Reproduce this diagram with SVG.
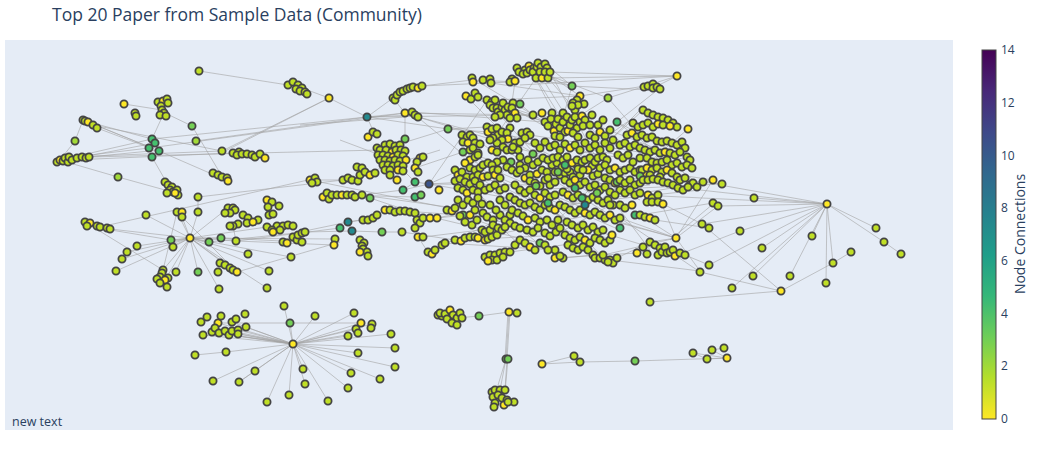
<svg xmlns="http://www.w3.org/2000/svg" width="1042" height="450" viewBox="0 0 1042 450">
<style>
.bg{fill:#e5ecf6}
.e{fill:none;stroke:#a3a3a3;stroke-width:0.6}
.n circle{r:3.6px;fill:#c0df25;stroke:#444;stroke-width:1.8px}
.n .y{fill:#fde725}
.n .g2{fill:#a2da37}
.n .g3{fill:#74d055}
.n .g4{fill:#45c06e}
.n .t{fill:#23898e}
.n .bl{fill:#3a548c}
text{font-family:"Open Sans","Liberation Sans",Arial,sans-serif;fill:#2a3f5f}
</style>
<defs>
<linearGradient id="vir" x1="0" y1="1" x2="0" y2="0">
<stop offset="0" stop-color="#fde725"/><stop offset="0.111" stop-color="#b5de2b"/><stop offset="0.222" stop-color="#6ece58"/><stop offset="0.333" stop-color="#35b779"/><stop offset="0.444" stop-color="#1f9e89"/><stop offset="0.556" stop-color="#26828e"/><stop offset="0.667" stop-color="#31688e"/><stop offset="0.778" stop-color="#3e4989"/><stop offset="0.889" stop-color="#482878"/><stop offset="1" stop-color="#440154"/>
</linearGradient>
<clipPath id="plot"><rect x="5" y="40" width="948" height="390"/></clipPath>
</defs>
<rect width="1042" height="450" fill="#ffffff"/>
<rect class="bg" x="5" y="40" width="948" height="390"/>
<text x="52" y="21" font-size="17.5">Top 20 Paper from Sample Data (Community)</text>

<g id="edges" class="e" clip-path="url(#plot)">
<path d="M199 71L288 85M329 98L302 88M329 98L227 150M329 98L367 117M124 104L162 110M165 113L192 126M192 126L223 178M163 115L152 139M83 120L152 148M88 122L159 151M93 125L222 151M97 128L150 148M85 121L152 139M75 141L83 120M75 141L60 160M60 160L152 139M65 158L149 148M68 157L222 151M72 160L233 153M89 157L160 150M82 157L155 143M63 161L118 177M118 177L165 190M196 141L367 117M222 151L329 98M152 157L168 185M159 151L228 181M152 139L367 117M157 147L405 113M89 157L380 150M198 197L343 180M100 227L308 180M85 222L163 270M110 229L190 238M87 226L171 240M177 212L163 270M182 217L237 272M233 226L236 241M237 272L340 242M198 212L198 197M209 242L305 232M221 238L302 242M236 241L334 245"/>
<path d="M190 238L177 212M190 238L182 217M190 238L198 212M190 238L171 240M190 238L173 247M190 238L209 242M190 238L221 238M190 238L236 241M190 238L163 270M190 238L165 280M190 238L176 272M190 238L198 272M190 238L219 289M190 238L237 272M190 238L230 268M190 238L248 254M190 238L269 271M190 238L267 288M190 238L137 246M190 238L127 252M190 238L122 259M190 238L116 271M190 238L291 257M190 238L335 239M190 238L267 227M190 238L228 208M190 238L146 215"/>
<path d="M367 117L405 113M367 117L393 98M367 117L375 135M367 117L540 115M367 117L415 115M367 117L448 129M405 113L405 139M405 139L393 160M418 117L488 135M418 117L510 145M422 86L510 82M422 86L472 80M405 113L533 115M410 112L545 122M415 115L470 160M393 98L405 113M448 129L487 127M448 129L380 150M343 180L310 180M342 195L415 197M370 198L430 218M403 190L415 182M429 184L500 180M429 184L415 182M429 184L540 185M429 184L520 200M429 184L460 170M429 184L487 100M429 184L403 190M415 182L393 160M403 190L362 195M348 222L340 228M348 222L352 231M348 222L363 220M348 222L300 232M352 231L305 232M340 228L236 241M352 231L382 232M382 232L402 232M402 232L455 240M360 240L352 231M373 218L348 222M437 218L475 210M447 210L463 215M463 215L490 225M445 243L485 232M418 237L428 252M300 125L405 117M340 140L380 155"/>
<path d="M487 100L545 122M495 100L580 96M517 68L572 86M545 72L580 96M548 78L610 150M536 78L575 140M540 72L608 98M550 72L677 76M548 78L677 76M520 85L677 76M653 88L677 76M608 98L677 76M580 96L645 86M572 86L650 90M572 86L540 80M617 122L660 88M608 98L560 128M466 96L545 122M478 97L533 115M533 115L520 104M542 113L560 128M512 108L553 131M500 115L540 160M488 132L448 129M463 152L415 168M475 157L540 185M533 154L580 175M511 162L490 188M543 158L650 170M560 128L610 160M575 140L640 148M585 120L620 145M490 150L560 200M500 178L620 230M520 190L650 185M529 66L560 125M542 78L600 170M520 82L470 80M470 135L560 200M480 168L600 240M455 175L540 245M500 130L640 200M530 180L605 260M560 220L660 250M590 170L650 250M600 130L700 185M617 122L690 160M630 120L560 170M680 140L600 200M640 110L600 150M487 127L600 190M505 150L610 215M470 240L590 215M540 243L620 200M455 240L520 210M595 257L676 238M610 170L545 232M660 172L713 180"/>
<path d="M310 180L453 209M362 195L455 208M343 180L440 150M405 211L487 217M437 218L560 205M415 213L540 243M423 237L505 227M445 243L555 250M455 240L565 235M493 220L590 243M510 252L600 240M555 258L637 253M563 258L593 255M617 258L650 242M617 122L700 185M643 110L600 150M688 129L640 170M608 98L630 123M572 86L560 128M580 96L575 140M466 96L520 150M472 78L545 122M491 83L580 96M545 64L572 86M536 78L500 130M533 154L600 200M511 162L650 195M463 152L560 180M470 160L600 215M465 163L540 230M488 132L620 155M497 143L640 180M520 142L680 167M530 135L690 160M575 117L660 150M560 137L620 190M505 188L610 240M480 185L585 240M458 188L520 245M490 230L600 170M540 210L690 185M560 205L700 190M600 190L722 184M640 215L713 203M655 220L709 228M663 204L702 224M620 218L700 272M610 260L700 271M685 255L709 265M675 256L740 231M550 72L600 165M517 68L505 150"/>
<path d="M560 205L676 238M590 215L676 238M620 218L676 238M640 215L676 238M660 200L676 238M676 238L713 180M676 238L718 206M676 238L700 271M676 238L650 242M713 180L690 185M722 184L680 180M827 204L754 198M827 204L718 206M827 204L702 224M827 204L740 231M827 204L762 248M827 204L812 236M827 204L876 228M827 204L884 242M884 242L901 254M827 204L833 263M827 204L826 283M827 204L790 276M827 204L753 276M827 204L732 288M827 204L709 265M827 204L640 195M827 204L700 190M827 204L720 185M702 224L781 291M781 291L700 272M781 291L833 263M833 263L851 252M781 291L650 302M713 204L670 240"/>
<path d="M457 318L479 316M479 316L509 312M509 312L517 313M509 312L506 359M508 312L505 359M510 312L507 359M506 359L500 390M508 359L505 392M506 359L495 395M507 359L504 405M542 364L574 356M542 364L580 362M574 356L580 362M580 362L635 361M635 361L727 358M727 358L693 353M727 358L712 350M727 358L707 359M693 353L707 359M712 350L724 348"/>
<path d="M293 344L284 306M293 344L290 323M293 344L315 316M293 344L354 313M293 344L361 323M293 344L372 324M293 344L356 329M293 344L348 336M293 344L358 333M293 344L391 334M293 344L395 348M293 344L358 353M293 344L395 367M293 344L351 373M293 344L380 379M293 344L348 388M293 344L328 401M293 344L305 384M293 344L303 369M293 344L289 395M293 344L267 402M293 344L255 371M293 344L239 382M293 344L213 381M293 344L226 352M293 344L203 335M293 344L212 332M293 344L219 333M293 344L225 331M293 344L229 335M293 344L232 331M293 344L238 330M293 344L238 334M293 344L246 327M293 344L218 323M293 344L232 322M218 323L361 323M195 355L226 352M239 382L255 371"/>
</g>

<g id="nodes-left" class="n">
<circle cx="199" cy="71"/>
<circle cx="288" cy="85"/><circle cx="293" cy="82"/><circle cx="298" cy="85"/><circle cx="296" cy="89"/><circle cx="302" cy="88"/><circle cx="300" cy="91"/><circle cx="305" cy="92"/><circle cx="307" cy="94"/>
<circle class="y" cx="329" cy="98"/>
<circle class="y" cx="124" cy="104"/><circle cx="135" cy="113"/><circle cx="136" cy="116"/>
<circle cx="158" cy="102"/><circle class="y" cx="163" cy="101"/><circle cx="167" cy="99"/><circle cx="168" cy="103"/><circle cx="161" cy="106"/><circle cx="162" cy="110"/><circle cx="164" cy="113"/><circle cx="160" cy="115"/><circle cx="166" cy="116"/>
<circle class="g3" cx="192" cy="126"/><circle class="g2" cx="196" cy="141"/>
<circle cx="83" cy="120"/><circle cx="85" cy="121"/><circle class="y" cx="88" cy="122"/><circle cx="93" cy="125"/><circle cx="97" cy="128"/>
<circle class="g2" cx="75" cy="141"/>
<circle class="g4" cx="152" cy="139"/><circle class="g4" cx="155" cy="143"/><circle class="g4" cx="149" cy="148"/><circle class="g4" cx="159" cy="151"/><circle class="g4" cx="152" cy="157"/>
<circle cx="57" cy="162"/><circle class="y" cx="60" cy="160"/><circle cx="63" cy="161"/><circle cx="65" cy="158"/><circle cx="68" cy="162"/><circle cx="69" cy="157"/><circle cx="72" cy="160"/><circle cx="77" cy="158"/><circle cx="82" cy="157"/><circle cx="86" cy="158"/><circle cx="89" cy="157"/>
<circle cx="222" cy="151"/><circle cx="233" cy="153"/><circle cx="239" cy="152"/><circle cx="237" cy="155"/><circle cx="242" cy="154"/><circle cx="247" cy="154"/><circle cx="252" cy="155"/><circle cx="255" cy="157"/><circle cx="260" cy="154"/><circle class="y" cx="265" cy="158"/>
<circle class="g2" cx="118" cy="177"/>
<circle cx="165" cy="182"/><circle cx="168" cy="185"/><circle cx="172" cy="187"/><circle cx="170" cy="190"/><circle cx="173" cy="192"/><circle cx="177" cy="190"/><circle cx="178" cy="195"/><circle cx="167" cy="193"/><circle class="y" cx="175" cy="193"/>
<circle cx="213" cy="173"/><circle cx="218" cy="175"/><circle cx="222" cy="177"/><circle cx="227" cy="178"/><circle class="y" cx="228" cy="181"/>
<circle cx="198" cy="197"/><circle cx="146" cy="215"/><circle cx="198" cy="212"/>
<circle cx="177" cy="212"/><circle class="y" cx="182" cy="212"/><circle cx="182" cy="217"/>
<circle cx="85" cy="222"/><circle class="y" cx="90" cy="223"/><circle cx="87" cy="226"/><circle cx="97" cy="226"/><circle cx="100" cy="227"/><circle cx="107" cy="228"/><circle cx="110" cy="229"/>
<circle class="g3" cx="171" cy="240"/><circle cx="173" cy="247"/>
<circle class="g3" cx="209" cy="242"/><circle class="g3" cx="221" cy="238"/><circle cx="236" cy="241"/>
<circle cx="228" cy="208"/><circle cx="233" cy="208"/><circle cx="235" cy="210"/><circle cx="230" cy="213"/><circle cx="225" cy="213"/>
<circle cx="243" cy="215"/><circle cx="248" cy="218"/><circle cx="258" cy="220"/><circle cx="247" cy="223"/><circle class="y" cx="253" cy="222"/><circle cx="238" cy="224"/><circle cx="233" cy="226"/><circle cx="230" cy="226"/>
<circle class="y" cx="267" cy="200"/><circle cx="272" cy="202"/><circle cx="279" cy="206"/><circle cx="268" cy="207"/><circle cx="269" cy="215"/><circle cx="273" cy="214"/>
<circle cx="267" cy="227"/><circle cx="277" cy="226"/><circle cx="283" cy="226"/><circle cx="288" cy="225"/><circle cx="293" cy="226"/><circle cx="272" cy="230"/><circle cx="280" cy="230"/><circle class="y" cx="273" cy="232"/>
<circle cx="283" cy="242"/><circle class="y" cx="287" cy="243"/><circle cx="293" cy="237"/><circle cx="297" cy="240"/><circle cx="298" cy="235"/><circle cx="302" cy="233"/><circle cx="305" cy="232"/><circle cx="302" cy="242"/>
<circle cx="335" cy="239"/><circle class="y" cx="334" cy="245"/>
<circle cx="137" cy="246"/><circle cx="127" cy="252"/><circle cx="122" cy="259"/><circle cx="116" cy="271"/>
<circle cx="163" cy="270"/><circle cx="162" cy="273"/><circle cx="160" cy="277"/><circle cx="157" cy="279"/><circle cx="168" cy="278"/><circle class="y" cx="165" cy="280"/><circle cx="160" cy="283"/><circle cx="167" cy="287"/>
<circle cx="176" cy="272"/><circle class="g3" cx="198" cy="272"/><circle cx="218" cy="272"/>
<circle cx="220" cy="263"/><circle cx="225" cy="265"/><circle cx="230" cy="268"/><circle cx="233" cy="270"/><circle class="y" cx="237" cy="272"/>
<circle cx="248" cy="254"/><circle cx="269" cy="271"/><circle cx="291" cy="257"/><circle cx="219" cy="289"/><circle cx="267" cy="288"/>
<circle class="y" cx="190" cy="238"/>
</g>

<g id="nodes-midleft" class="n">
<circle cx="393" cy="98"/><circle cx="395" cy="100"/><circle cx="397" cy="95"/><circle cx="400" cy="92"/><circle cx="403" cy="91"/><circle cx="407" cy="89"/><circle cx="410" cy="88"/><circle cx="413" cy="87"/><circle class="y" cx="418" cy="88"/><circle cx="422" cy="86"/>
<circle class="y" cx="368" cy="137"/><circle cx="373" cy="132"/><circle cx="377" cy="134"/>
<circle class="y" cx="405" cy="113"/><circle cx="412" cy="112"/><circle cx="415" cy="115"/><circle cx="418" cy="117"/>
<circle class="g3" cx="405" cy="139"/><circle class="g3" cx="448" cy="129"/>
<circle cx="385" cy="145"/><circle cx="390" cy="144"/><circle cx="395" cy="146"/><circle cx="400" cy="145"/><circle cx="377" cy="148"/>
<circle cx="380" cy="150"/><circle cx="386" cy="150"/><circle class="y" cx="392" cy="152"/><circle cx="396" cy="150"/><circle cx="401" cy="150"/><circle cx="405" cy="151"/>
<circle cx="378" cy="155"/><circle cx="383" cy="155"/><circle cx="388" cy="156"/><circle class="y" cx="393" cy="157"/><circle cx="398" cy="155"/><circle cx="403" cy="156"/>
<circle cx="380" cy="160"/><circle cx="385" cy="160"/><circle cx="390" cy="161"/><circle cx="395" cy="160"/><circle cx="400" cy="161"/><circle class="y" cx="406" cy="160"/>
<circle cx="383" cy="165"/><circle cx="388" cy="165"/><circle cx="393" cy="166"/><circle cx="398" cy="165"/><circle cx="403" cy="166"/>
<circle cx="385" cy="170"/><circle cx="390" cy="170"/><circle class="y" cx="398" cy="170"/><circle cx="403" cy="171"/>
<circle cx="390" cy="175"/><circle class="y" cx="397" cy="180"/>
<circle class="y" cx="420" cy="158"/><circle cx="423" cy="157"/><circle cx="417" cy="162"/><circle class="y" cx="415" cy="168"/><circle cx="418" cy="172"/>
<circle class="g4" cx="415" cy="182"/><circle class="y" cx="439" cy="190"/>
<circle class="g4" cx="403" cy="190"/><circle class="g4" cx="415" cy="197"/><circle class="g3" cx="421" cy="195"/>
<circle class="y" cx="310" cy="180"/><circle cx="315" cy="178"/><circle cx="317" cy="182"/><circle cx="312" cy="183"/>
<circle cx="343" cy="180"/><circle cx="348" cy="178"/><circle cx="352" cy="180"/><circle cx="358" cy="181"/><circle cx="360" cy="175"/><circle cx="357" cy="167"/><circle cx="362" cy="168"/><circle cx="365" cy="172"/><circle class="y" cx="370" cy="175"/><circle cx="375" cy="173"/>
<circle class="y" cx="323" cy="197"/><circle cx="327" cy="193"/><circle cx="329" cy="199"/><circle cx="332" cy="195"/><circle cx="337" cy="195"/><circle class="y" cx="342" cy="195"/><circle cx="347" cy="195"/><circle cx="352" cy="195"/><circle cx="355" cy="197"/><circle cx="362" cy="195"/>
<circle class="g3" cx="370" cy="198"/>
<circle class="t" cx="348" cy="222"/><circle class="g4" cx="340" cy="228"/><circle class="t" cx="352" cy="231"/>
<circle cx="360" cy="240"/><circle cx="364" cy="243"/><circle cx="362" cy="246"/><circle cx="363" cy="249"/><circle cx="367" cy="252"/><circle class="y" cx="360" cy="252"/><circle cx="368" cy="256"/>
<circle class="g3" cx="382" cy="232"/><circle cx="402" cy="232"/>
<circle cx="363" cy="220"/><circle cx="368" cy="220"/><circle cx="373" cy="218"/><circle cx="377" cy="215"/><circle class="y" cx="385" cy="210"/><circle cx="390" cy="210"/><circle cx="395" cy="212"/><circle cx="400" cy="211"/><circle cx="405" cy="211"/><circle cx="410" cy="212"/><circle cx="415" cy="213"/><circle cx="417" cy="220"/><circle cx="420" cy="223"/><circle cx="423" cy="218"/><circle class="y" cx="430" cy="218"/><circle class="y" cx="437" cy="218"/>
<circle cx="415" cy="228"/><circle class="y" cx="418" cy="237"/><circle cx="423" cy="237"/>
<circle cx="428" cy="252"/><circle class="y" cx="432" cy="254"/><circle cx="435" cy="250"/><circle cx="442" cy="245"/><circle cx="445" cy="243"/>
<circle cx="447" cy="210"/><circle class="y" cx="452" cy="211"/><circle cx="455" cy="208"/><circle class="g3" cx="463" cy="215"/>
<circle class="t" cx="367" cy="117"/>
<circle class="bl" cx="429" cy="184"/>
</g>

<g id="nodes-center" class="n">
<circle cx="512" cy="79"/><circle cx="510" cy="82"/><circle class="y" cx="515" cy="81"/><circle cx="517" cy="68"/><circle cx="519" cy="72"/><circle cx="525" cy="70"/><circle cx="523" cy="74"/><circle cx="527" cy="73"/><circle class="y" cx="529" cy="66"/><circle cx="530" cy="70"/><circle cx="534" cy="68"/><circle cx="533" cy="72"/><circle cx="537" cy="67"/><circle cx="536" cy="78"/><circle cx="538" cy="63"/><circle cx="541" cy="67"/><circle cx="540" cy="72"/><circle class="y" cx="542" cy="78"/><circle cx="545" cy="64"/><circle cx="547" cy="68"/><circle cx="545" cy="72"/><circle cx="548" cy="78"/><circle cx="550" cy="72"/>
<circle cx="472" cy="78"/><circle class="y" cx="473" cy="82"/><circle cx="483" cy="80"/><circle cx="490" cy="79"/><circle cx="491" cy="83"/>
<circle class="y" cx="466" cy="96"/><circle cx="471" cy="99"/><circle cx="475" cy="93"/><circle cx="478" cy="97"/>
<circle cx="487" cy="100"/><circle cx="492" cy="102"/><circle cx="495" cy="100"/><circle cx="490" cy="105"/><circle cx="493" cy="108"/><circle cx="497" cy="108"/><circle cx="498" cy="112"/><circle cx="502" cy="107"/><circle cx="503" cy="103"/><circle cx="505" cy="110"/><circle cx="508" cy="107"/><circle cx="513" cy="103"/><circle cx="512" cy="108"/><circle class="y" cx="515" cy="113"/><circle cx="517" cy="118"/><circle class="g3" cx="520" cy="104"/><circle cx="507" cy="115"/><circle cx="510" cy="118"/><circle cx="500" cy="115"/><circle cx="495" cy="117"/>
<circle cx="533" cy="115"/><circle class="y" cx="542" cy="113"/>
<circle cx="552" cy="113"/><circle cx="563" cy="113"/><circle cx="575" cy="110"/><circle cx="545" cy="122"/><circle cx="548" cy="126"/><circle cx="551" cy="119"/><circle class="y" cx="554" cy="131"/><circle cx="556" cy="124"/><circle cx="558" cy="119"/><circle cx="560" cy="128"/><circle cx="563" cy="122"/><circle cx="565" cy="132"/><circle cx="567" cy="117"/><circle class="y" cx="568" cy="131"/><circle cx="570" cy="125"/><circle cx="572" cy="120"/><circle cx="575" cy="117"/><circle cx="577" cy="128"/><circle cx="580" cy="122"/><circle class="y" cx="582" cy="116"/><circle cx="585" cy="120"/><circle cx="583" cy="126"/><circle cx="555" cy="136"/><circle cx="560" cy="137"/><circle cx="573" cy="133"/><circle cx="578" cy="137"/>
<circle cx="590" cy="125"/><circle cx="598" cy="125"/><circle cx="603" cy="120"/><circle cx="592" cy="115"/><circle cx="590" cy="135"/><circle cx="595" cy="138"/><circle class="y" cx="600" cy="132"/><circle cx="605" cy="136"/><circle cx="610" cy="130"/><circle cx="613" cy="140"/>
<circle cx="535" cy="143"/><circle cx="540" cy="148"/><circle cx="545" cy="142"/><circle cx="550" cy="147"/><circle cx="555" cy="145"/><circle cx="560" cy="150"/><circle cx="565" cy="144"/><circle class="y" cx="570" cy="148"/><circle cx="575" cy="145"/><circle cx="580" cy="150"/><circle cx="585" cy="143"/><circle cx="590" cy="148"/><circle cx="595" cy="145"/><circle cx="600" cy="150"/><circle cx="605" cy="143"/><circle cx="610" cy="148"/>
<circle class="g3" cx="572" cy="86"/><circle class="y" cx="580" cy="96"/><circle cx="577" cy="100"/><circle cx="584" cy="104"/><circle cx="573" cy="103"/><circle cx="578" cy="105"/><circle cx="572" cy="106"/>
<circle class="g2" cx="608" cy="98"/><circle class="g4" cx="617" cy="122"/>
<circle cx="487" cy="127"/><circle class="y" cx="488" cy="132"/><circle cx="492" cy="129"/><circle cx="497" cy="128"/><circle cx="510" cy="128"/><circle cx="498" cy="135"/><circle cx="502" cy="132"/><circle cx="507" cy="133"/><circle class="y" cx="508" cy="139"/><circle cx="502" cy="140"/><circle cx="497" cy="143"/><circle cx="493" cy="138"/><circle cx="490" cy="140"/><circle cx="503" cy="147"/><circle cx="507" cy="150"/><circle cx="512" cy="150"/><circle cx="515" cy="143"/><circle cx="520" cy="142"/><circle cx="522" cy="133"/><circle cx="527" cy="132"/><circle cx="530" cy="135"/><circle cx="525" cy="138"/><circle cx="518" cy="150"/><circle cx="513" cy="147"/><circle class="y" cx="492" cy="150"/><circle cx="497" cy="152"/>
<circle cx="462" cy="135"/><circle cx="467" cy="137"/><circle cx="470" cy="135"/><circle cx="473" cy="138"/><circle cx="463" cy="142"/><circle class="y" cx="468" cy="143"/><circle cx="475" cy="143"/><circle cx="480" cy="144"/><circle class="g3" cx="463" cy="152"/><circle cx="470" cy="150"/><circle cx="473" cy="148"/><circle cx="478" cy="153"/>
<circle class="g3" cx="533" cy="154"/><circle class="y" cx="470" cy="160"/><circle cx="475" cy="157"/><circle cx="478" cy="155"/><circle class="y" cx="465" cy="163"/>
<circle class="g3" cx="511" cy="162"/>
<circle cx="528" cy="160"/><circle cx="533" cy="165"/><circle cx="538" cy="162"/><circle cx="552" cy="165"/><circle cx="557" cy="163"/><circle class="y" cx="577" cy="165"/><circle cx="592" cy="166"/><circle cx="520" cy="157"/><circle cx="503" cy="160"/><circle cx="497" cy="162"/>
<circle cx="455" cy="170"/><circle class="y" cx="458" cy="175"/><circle cx="462" cy="172"/><circle cx="467" cy="177"/><circle cx="470" cy="168"/><circle cx="473" cy="177"/><circle cx="475" cy="170"/><circle cx="480" cy="168"/><circle cx="483" cy="165"/><circle cx="488" cy="163"/><circle cx="492" cy="165"/><circle cx="478" cy="175"/><circle class="y" cx="483" cy="177"/><circle cx="488" cy="176"/><circle cx="493" cy="170"/><circle class="y" cx="495" cy="175"/><circle cx="498" cy="170"/><circle cx="500" cy="178"/>
<circle cx="455" cy="181"/><circle cx="460" cy="179"/><circle cx="465" cy="182"/><circle cx="470" cy="184"/><circle cx="475" cy="181"/><circle cx="480" cy="185"/><circle cx="458" cy="188"/><circle cx="463" cy="190"/><circle class="y" cx="467" cy="193"/><circle cx="473" cy="190"/><circle cx="478" cy="192"/><circle cx="485" cy="190"/><circle cx="490" cy="188"/><circle cx="495" cy="185"/><circle cx="500" cy="190"/><circle cx="505" cy="188"/>
<circle cx="458" cy="200"/><circle cx="463" cy="205"/><circle cx="468" cy="200"/><circle cx="473" cy="203"/><circle cx="478" cy="198"/><circle cx="500" cy="200"/><circle cx="505" cy="205"/><circle cx="500" cy="215"/><circle cx="510" cy="215"/><circle class="y" cx="470" cy="215"/><circle cx="465" cy="222"/><circle cx="472" cy="225"/><circle cx="477" cy="220"/><circle cx="460" cy="216"/>
<circle cx="475" cy="210"/><circle cx="482" cy="204"/><circle cx="483" cy="213"/><circle cx="487" cy="217"/><circle cx="493" cy="220"/><circle cx="490" cy="205"/><circle cx="496" cy="210"/>
<circle cx="507" cy="167"/><circle cx="512" cy="170"/><circle cx="517" cy="173"/><circle cx="520" cy="165"/><circle cx="525" cy="168"/><circle cx="520" cy="170"/><circle class="y" cx="525" cy="178"/><circle cx="530" cy="175"/><circle class="y" cx="537" cy="174"/><circle cx="542" cy="170"/><circle cx="547" cy="172"/><circle cx="530" cy="181"/><circle cx="535" cy="183"/><circle cx="540" cy="186"/><circle cx="545" cy="180"/><circle cx="550" cy="185"/><circle cx="555" cy="182"/><circle cx="548" cy="178"/>
<circle cx="515" cy="185"/><circle cx="520" cy="190"/><circle cx="525" cy="193"/><circle cx="530" cy="190"/><circle cx="535" cy="195"/><circle class="y" cx="540" cy="198"/><circle cx="545" cy="193"/><circle cx="550" cy="197"/><circle cx="555" cy="195"/>
<circle cx="510" cy="197"/><circle cx="515" cy="200"/><circle cx="520" cy="203"/><circle cx="525" cy="205"/><circle cx="530" cy="203"/><circle cx="535" cy="207"/><circle cx="540" cy="210"/><circle cx="545" cy="205"/><circle cx="550" cy="208"/><circle class="y" cx="555" cy="210"/><circle cx="560" cy="205"/>
<circle cx="512" cy="210"/><circle cx="518" cy="213"/><circle cx="523" cy="216"/><circle class="y" cx="528" cy="220"/><circle cx="535" cy="218"/><circle cx="540" cy="222"/><circle cx="547" cy="220"/><circle cx="552" cy="225"/><circle cx="558" cy="220"/>
<circle cx="505" cy="220"/><circle cx="510" cy="223"/><circle cx="515" cy="226"/><circle cx="520" cy="228"/><circle cx="527" cy="230"/><circle cx="533" cy="232"/><circle cx="538" cy="228"/><circle cx="545" cy="233"/><circle cx="550" cy="236"/><circle cx="556" cy="232"/><circle cx="560" cy="228"/>
<circle cx="543" cy="158"/><circle cx="548" cy="160"/><circle cx="553" cy="158"/><circle cx="558" cy="157"/><circle cx="563" cy="160"/><circle cx="567" cy="157"/><circle class="y" cx="572" cy="163"/><circle cx="577" cy="160"/><circle cx="582" cy="162"/><circle cx="585" cy="160"/><circle cx="590" cy="158"/><circle cx="595" cy="162"/><circle cx="598" cy="158"/><circle cx="603" cy="157"/><circle cx="607" cy="160"/>
<circle cx="555" cy="172"/><circle cx="560" cy="175"/><circle cx="565" cy="173"/><circle cx="570" cy="172"/><circle cx="573" cy="177"/><circle cx="580" cy="175"/><circle class="y" cx="588" cy="170"/><circle cx="562" cy="167"/><circle cx="567" cy="169"/><circle cx="578" cy="169"/><circle cx="583" cy="170"/><circle cx="593" cy="176"/><circle cx="598" cy="174"/>
<circle cx="565" cy="180"/><circle cx="570" cy="183"/><circle class="y" cx="575" cy="180"/><circle cx="580" cy="185"/><circle cx="585" cy="182"/><circle cx="590" cy="187"/><circle cx="595" cy="185"/><circle cx="600" cy="190"/><circle cx="605" cy="187"/><circle cx="610" cy="192"/>
<circle cx="563" cy="192"/><circle class="y" cx="568" cy="195"/><circle cx="573" cy="198"/><circle cx="578" cy="195"/><circle cx="583" cy="198"/><circle cx="588" cy="200"/><circle cx="593" cy="197"/><circle cx="598" cy="200"/><circle cx="603" cy="203"/><circle cx="608" cy="200"/><circle cx="613" cy="205"/>
<circle cx="565" cy="207"/><circle cx="570" cy="210"/><circle cx="575" cy="213"/><circle cx="580" cy="210"/><circle class="y" cx="585" cy="213"/><circle cx="590" cy="215"/><circle cx="595" cy="212"/><circle cx="600" cy="215"/><circle cx="605" cy="218"/><circle class="y" cx="610" cy="215"/><circle cx="615" cy="220"/><circle cx="620" cy="218"/>
<circle cx="567" cy="222"/><circle cx="572" cy="225"/><circle cx="578" cy="228"/><circle cx="583" cy="225"/><circle cx="588" cy="230"/><circle cx="593" cy="227"/><circle cx="598" cy="232"/><circle cx="603" cy="230"/>
<circle class="g3" cx="558" cy="172"/><circle class="g4" cx="565" cy="165"/><circle class="g4" cx="575" cy="188"/><circle class="t" cx="585" cy="205"/><circle class="g4" cx="582" cy="198"/><circle class="g3" cx="597" cy="193"/><circle class="g3" cx="536" cy="186"/><circle class="g4" cx="548" cy="203"/>
<circle cx="600" cy="168"/><circle cx="605" cy="165"/><circle cx="610" cy="170"/><circle class="y" cx="615" cy="168"/><circle cx="620" cy="172"/><circle cx="625" cy="170"/><circle cx="630" cy="168"/><circle cx="635" cy="172"/><circle cx="640" cy="170"/><circle class="y" cx="645" cy="173"/>
<circle cx="605" cy="178"/><circle cx="610" cy="180"/><circle class="y" cx="615" cy="183"/><circle class="g3" cx="617" cy="182"/><circle cx="620" cy="180"/><circle cx="625" cy="183"/><circle cx="630" cy="180"/><circle cx="635" cy="185"/><circle cx="640" cy="183"/>
<circle cx="620" cy="190"/><circle cx="625" cy="193"/><circle cx="630" cy="190"/><circle cx="635" cy="195"/><circle cx="640" cy="193"/><circle class="y" cx="648" cy="195"/><circle cx="652" cy="198"/><circle cx="658" cy="195"/><circle cx="615" cy="195"/><circle cx="610" cy="205"/><circle cx="620" cy="205"/><circle cx="625" cy="208"/><circle class="g4" cx="635" cy="215"/><circle class="y" cx="632" cy="205"/>
<circle cx="455" cy="240"/><circle class="y" cx="461" cy="241"/><circle cx="465" cy="238"/><circle cx="470" cy="237"/><circle cx="475" cy="237"/><circle class="y" cx="478" cy="238"/><circle class="y" cx="485" cy="240"/><circle cx="488" cy="239"/><circle cx="492" cy="237"/><circle cx="497" cy="235"/><circle cx="482" cy="230"/><circle cx="485" cy="232"/><circle cx="490" cy="230"/><circle cx="493" cy="225"/><circle cx="498" cy="228"/><circle cx="502" cy="230"/><circle cx="505" cy="227"/>
<circle cx="485" cy="257"/><circle cx="490" cy="255"/><circle cx="495" cy="255"/><circle cx="500" cy="253"/><circle cx="505" cy="252"/><circle cx="510" cy="252"/><circle cx="492" cy="260"/><circle cx="497" cy="260"/><circle cx="503" cy="257"/><circle class="y" cx="488" cy="261"/>
<circle class="g3" cx="540" cy="243"/><circle cx="555" cy="250"/><circle class="y" cx="555" cy="258"/><circle cx="563" cy="258"/><circle cx="560" cy="256"/>
<circle cx="515" cy="245"/><circle cx="520" cy="240"/><circle cx="525" cy="243"/><circle class="y" cx="530" cy="247"/><circle cx="535" cy="250"/><circle cx="545" cy="245"/><circle cx="548" cy="250"/>
<circle cx="565" cy="235"/><circle cx="570" cy="238"/><circle cx="575" cy="240"/><circle cx="580" cy="237"/><circle class="y" cx="585" cy="240"/><circle cx="590" cy="243"/><circle cx="595" cy="238"/><circle cx="600" cy="240"/><circle cx="605" cy="243"/><circle cx="610" cy="240"/><circle class="y" cx="612" cy="235"/><circle cx="568" cy="245"/><circle cx="573" cy="248"/><circle cx="578" cy="250"/><circle cx="583" cy="247"/><circle cx="588" cy="250"/><circle class="g4" cx="620" cy="228"/>
<circle cx="593" cy="255"/><circle cx="595" cy="258"/><circle cx="600" cy="258"/><circle cx="605" cy="260"/><circle cx="610" cy="260"/><circle cx="613" cy="263"/><circle cx="617" cy="258"/><circle cx="603" cy="255"/><circle cx="608" cy="262"/>
</g>

<g id="nodes-right" class="n">
<circle class="y" cx="677" cy="76"/>
<circle cx="644" cy="87"/><circle cx="648" cy="86"/><circle cx="653" cy="84"/><circle cx="653" cy="88"/><circle cx="657" cy="87"/><circle cx="660" cy="89"/>
<circle cx="643" cy="110"/><circle cx="648" cy="113"/><circle cx="653" cy="115"/><circle cx="658" cy="117"/><circle cx="663" cy="118"/><circle cx="668" cy="120"/><circle cx="673" cy="123"/><circle cx="677" cy="127"/><circle class="y" cx="688" cy="129"/>
<circle cx="633" cy="123"/><circle cx="638" cy="127"/><circle cx="643" cy="125"/><circle cx="648" cy="123"/><circle cx="653" cy="127"/><circle class="y" cx="658" cy="124"/><circle cx="663" cy="125"/><circle class="y" cx="670" cy="126"/>
<circle cx="627" cy="135"/><circle class="y" cx="632" cy="133"/><circle cx="637" cy="137"/><circle cx="642" cy="135"/><circle cx="647" cy="138"/><circle cx="652" cy="137"/><circle cx="657" cy="141"/><circle cx="662" cy="142"/><circle cx="667" cy="141"/><circle cx="672" cy="143"/><circle cx="677" cy="145"/><circle cx="682" cy="142"/><circle cx="685" cy="148"/>
<circle cx="620" cy="145"/><circle cx="625" cy="143"/><circle cx="630" cy="147"/><circle cx="635" cy="145"/><circle cx="640" cy="148"/><circle cx="645" cy="150"/><circle cx="650" cy="152"/><circle cx="655" cy="150"/><circle cx="660" cy="153"/><circle class="y" cx="665" cy="152"/><circle cx="670" cy="153"/><circle cx="675" cy="155"/><circle cx="680" cy="152"/><circle cx="687" cy="157"/><circle cx="690" cy="160"/>
<circle cx="618" cy="155"/><circle cx="623" cy="158"/><circle cx="628" cy="155"/><circle cx="633" cy="162"/><circle cx="640" cy="158"/><circle cx="647" cy="158"/><circle cx="652" cy="162"/><circle cx="657" cy="163"/><circle cx="662" cy="162"/><circle cx="667" cy="160"/><circle cx="672" cy="165"/><circle cx="677" cy="163"/><circle cx="682" cy="167"/><circle cx="687" cy="165"/><circle cx="692" cy="168"/>
<circle cx="642" cy="170"/><circle class="y" cx="647" cy="168"/><circle cx="652" cy="170"/><circle cx="657" cy="168"/><circle cx="662" cy="172"/><circle class="y" cx="667" cy="170"/><circle cx="672" cy="173"/><circle cx="677" cy="177"/><circle cx="680" cy="180"/><circle cx="650" cy="175"/><circle cx="660" cy="177"/><circle class="g3" cx="640" cy="176"/>
<circle cx="685" cy="178"/><circle cx="690" cy="185"/><circle cx="693" cy="183"/><circle cx="697" cy="187"/><circle cx="703" cy="182"/>
<circle cx="643" cy="180"/><circle cx="648" cy="180"/><circle cx="653" cy="179"/><circle cx="658" cy="180"/><circle cx="663" cy="182"/><circle cx="668" cy="183"/><circle cx="673" cy="185"/><circle cx="678" cy="188"/><circle cx="683" cy="190"/><circle cx="688" cy="187"/>
<circle cx="647" cy="202"/><circle cx="652" cy="202"/><circle cx="658" cy="202"/><circle class="y" cx="663" cy="204"/>
<circle cx="640" cy="215"/><circle cx="645" cy="217"/><circle class="y" cx="650" cy="218"/><circle cx="655" cy="220"/>
<circle class="y" cx="713" cy="180"/><circle cx="722" cy="184"/>
<circle cx="713" cy="203"/><circle cx="718" cy="206"/><circle cx="702" cy="224"/><circle cx="709" cy="228"/>
<circle cx="754" cy="198"/><circle cx="740" cy="231"/><circle cx="762" cy="248"/><circle cx="812" cy="236"/><circle cx="851" cy="252"/><circle cx="833" cy="263"/><circle cx="876" cy="228"/><circle cx="884" cy="242"/><circle cx="901" cy="254"/>
<circle cx="709" cy="265"/><circle cx="700" cy="272"/><circle cx="753" cy="276"/><circle cx="790" cy="276"/><circle cx="826" cy="283"/><circle cx="732" cy="288"/><circle class="y" cx="781" cy="291"/><circle cx="650" cy="302"/>
<circle class="y" cx="637" cy="253"/><circle cx="643" cy="247"/><circle cx="647" cy="254"/><circle cx="650" cy="242"/><circle cx="655" cy="245"/><circle cx="658" cy="255"/><circle cx="660" cy="248"/><circle cx="662" cy="252"/><circle cx="665" cy="247"/><circle cx="667" cy="253"/><circle cx="670" cy="252"/><circle cx="673" cy="250"/><circle class="y" cx="675" cy="256"/><circle cx="680" cy="253"/><circle cx="685" cy="255"/>
<circle class="y" cx="676" cy="238"/>
<circle class="y" cx="827" cy="204"/>
</g>

<g id="nodes-bottom" class="n">
<circle cx="438" cy="315"/><circle cx="442" cy="316"/><circle cx="440" cy="313"/><circle cx="445" cy="314"/><circle class="y" cx="450" cy="310"/><circle cx="453" cy="315"/><circle cx="447" cy="319"/><circle cx="457" cy="318"/><circle cx="460" cy="313"/><circle cx="462" cy="318"/><circle cx="452" cy="323"/><circle cx="457" cy="325"/>
<circle class="g3" cx="479" cy="316"/><circle class="y" cx="509" cy="312"/><circle cx="517" cy="313"/>
<circle class="g3" cx="506" cy="359"/><circle class="g3" cx="508" cy="359"/>
<circle cx="492" cy="392"/><circle cx="495" cy="390"/><circle cx="500" cy="390"/><circle cx="505" cy="390"/><circle cx="493" cy="397"/><circle cx="498" cy="395"/><circle cx="502" cy="398"/><circle cx="507" cy="400"/><circle cx="514" cy="402"/><circle cx="495" cy="403"/><circle class="y" cx="504" cy="405"/><circle cx="508" cy="402"/><circle cx="494" cy="407"/>
<circle class="y" cx="542" cy="364"/><circle cx="574" cy="356"/><circle cx="580" cy="362"/><circle class="g3" cx="635" cy="361"/>
<circle cx="693" cy="353"/><circle cx="712" cy="350"/><circle cx="724" cy="348"/><circle cx="707" cy="359"/><circle class="y" cx="727" cy="358"/>
</g>

<g id="nodes-star" class="n">
<circle cx="284" cy="306"/><circle class="g3" cx="290" cy="323"/><circle cx="315" cy="316"/><circle cx="354" cy="313"/><circle class="y" cx="361" cy="323"/><circle cx="372" cy="324"/><circle cx="371" cy="328"/><circle cx="356" cy="329"/><circle cx="358" cy="333"/><circle cx="348" cy="336"/><circle cx="391" cy="334"/><circle cx="395" cy="348"/><circle cx="358" cy="353"/><circle cx="395" cy="367"/><circle cx="351" cy="373"/><circle cx="380" cy="379"/><circle cx="348" cy="388"/><circle cx="328" cy="401"/><circle cx="305" cy="384"/><circle cx="303" cy="369"/><circle cx="289" cy="395"/><circle cx="267" cy="402"/><circle cx="255" cy="371"/><circle cx="239" cy="382"/><circle cx="213" cy="381"/><circle cx="226" cy="352"/><circle cx="195" cy="355"/>
<circle cx="201" cy="322"/><circle cx="207" cy="317"/><circle class="y" cx="218" cy="323"/><circle cx="221" cy="316"/><circle cx="232" cy="322"/><circle cx="236" cy="319"/><circle cx="245" cy="314"/><circle cx="203" cy="335"/><circle cx="212" cy="332"/><circle cx="215" cy="328"/><circle cx="219" cy="333"/><circle cx="225" cy="331"/><circle cx="229" cy="335"/><circle cx="232" cy="331"/><circle cx="238" cy="330"/><circle cx="238" cy="334"/><circle cx="246" cy="327"/>
<circle class="y" cx="293" cy="344"/>
</g>

<text x="12" y="426" font-size="12.5">new text</text>

<g id="colorbar">
<rect x="982" y="50" width="14" height="369" fill="url(#vir)" stroke="#444" stroke-width="1"/>
<g font-size="12">
<text x="1001" y="54">14</text><text x="1001" y="107">12</text><text x="1001" y="160">10</text><text x="1001" y="212">8</text><text x="1001" y="265">6</text><text x="1001" y="318">4</text><text x="1001" y="370">2</text><text x="1001" y="423">0</text>
</g>
<text x="1025" y="234" font-size="14" text-anchor="middle" transform="rotate(-90 1025 234)">Node Connections</text>
</g>
</svg>
